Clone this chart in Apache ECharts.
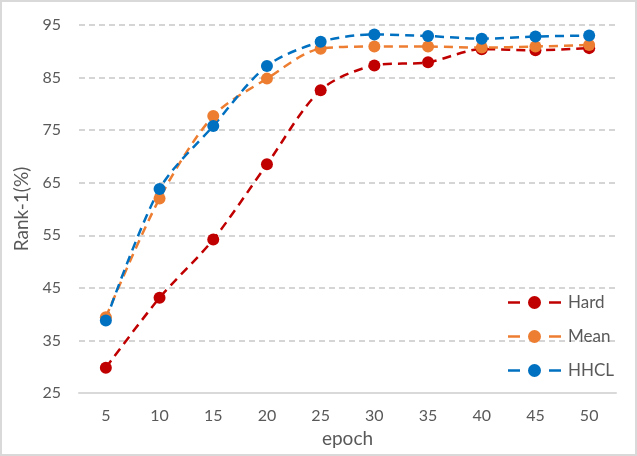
<!DOCTYPE html>
<html><head><meta charset="utf-8">
<script src="https://cdn.jsdelivr.net/npm/echarts@6/dist/echarts.min.js"></script>
<style>html,body{margin:0;padding:0;background:#fff}#c{width:637px;height:456px}</style>
</head><body><div id="c"></div>
<script>
const epochs = ['5','10','15','20','25','30','35','40','45','50'];
const hard = [29.8, 43.1, 54.2, 68.5, 82.6, 87.3, 87.9, 90.4, 90.2, 90.6];
const mean = [39.4, 62.0, 77.7, 84.8, 90.5, 90.9, 90.9, 90.7, 90.9, 91.2];
const hhcl = [38.8, 63.8, 75.8, 87.2, 91.8, 93.2, 92.9, 92.4, 92.8, 93.0];
const yTicks = {min: 25, max: 95, interval: 10};

const txt = '#595959';
const font = 'Lato, "Open Sans", sans-serif';
const legendIcon = 'path://M0,5.25h12v2.5h-12z M41,5.25h12v2.5h-12z M20,6.5a6.5,6.5 0 1,0 13,0a6.5,6.5 0 1,0 -13,0z';
function mk(name, data, color) {
  return {
    name, type: 'line', data, smooth: 0.3,
    symbol: 'circle', symbolSize: 12,
    itemStyle: {color},
    lineStyle: {color, width: 2.5, type: [9, 6]}
  };
}
const chart = echarts.init(document.getElementById('c'));
chart.setOption({
  animation: false,
  textStyle: {fontFamily: font},
  graphic: [{type: 'rect', shape: {x: 1, y: 1, width: 635, height: 454},
    style: {fill: 'none', stroke: '#d9d9d9', lineWidth: 2}, silent: true}],
  grid: {left: 79, right: 21, top: 25, bottom: 63},
  legend: {
    orient: 'vertical', left: 503, top: 289, itemGap: 17,
    itemWidth: 53, itemHeight: 13, icon: legendIcon,
    textStyle: {color: txt, fontSize: 17, fontFamily: font, padding: [0, 0, 0, 2]},
    data: ['Hard', 'Mean', 'HHCL']
  },
  xAxis: {
    type: 'category', data: epochs, boundaryGap: true,
    name: 'epoch', nameLocation: 'middle', nameGap: 36,
    nameTextStyle: {color: txt, fontSize: 19, fontFamily: font},
    axisLine: {lineStyle: {color: '#d9d9d9', width: 2}},
    axisTick: {show: false},
    axisLabel: {color: txt, fontSize: 16, margin: 15, fontFamily: font}
  },
  yAxis: {
    type: 'value', min: yTicks.min, max: yTicks.max, interval: yTicks.interval,
    name: 'Rank-1(%)', nameLocation: 'middle', nameGap: 44,
    nameTextStyle: {color: txt, fontSize: 19, fontFamily: font},
    axisLine: {show: false}, axisTick: {show: false},
    axisLabel: {color: txt, fontSize: 16, margin: 18, fontFamily: font},
    splitLine: {lineStyle: {color: '#c8c8c8', type: [6, 4], width: 1.5}}
  },
  series: [mk('Hard', hard, '#C00000'), mk('Mean', mean, '#ED7D31'), mk('HHCL', hhcl, '#0070C0')]
});
</script></body></html>
